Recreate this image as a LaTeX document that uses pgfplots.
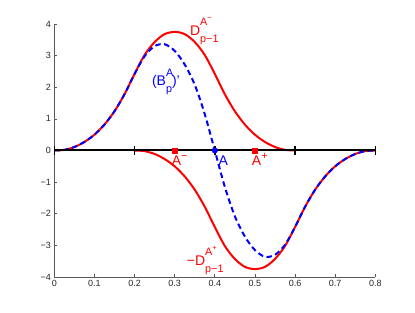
\documentclass[border=0pt]{standalone}
\usepackage{pgfplots}
\pgfplotsset{compat=1.18}
\usepackage{fontspec}
\setmainfont{Liberation Sans}
\newcommand{\mi}{−}
\newcommand{\bigf}[1]{{\fontsize{14}{14}\selectfont #1}}
\newcommand{\smallf}[1]{{\fontsize{10.8}{11}\selectfont #1}}
\newcommand{\tinyf}[1]{{\fontsize{7.5}{8}\selectfont #1}}
\begin{document}
\begin{tikzpicture}
\begin{axis}[
  scale only axis, width=321pt, height=253pt,
  xmin=0, xmax=0.8, ymin=-4, ymax=4,
  axis x line*=bottom, axis y line*=left,
  axis line style={black!65, line width=0.7pt},
  tick align=inside, major tick length=3pt,
  tick style={black!65, line width=0.6pt},
  xtick={0,0.1,0.2,0.3,0.4,0.5,0.6,0.7,0.8},
  xticklabels={0,0.1,0.2,0.3,0.4,0.5,0.6,0.7,0.8},
  ytick={-4,-3,-2,-1,0,1,2,3,4},
  yticklabels={−4,−3,−2,−1,0,1,2,3,4},
  ticklabel style={font=\fontsize{9}{9}\selectfont, text=black!85},
  clip=false,
]
% D^{A-}_{p-1}
\addplot[red, line width=2pt, smooth] coordinates {
(0,0)(0.025,0.02)(0.05,0.11)(0.075,0.27)(0.1,0.50)(0.125,0.82)(0.15,1.24)(0.175,1.78)
(0.2,2.42)(0.225,3.02)(0.25,3.43)(0.275,3.68)(0.3,3.75)(0.325,3.68)(0.35,3.43)(0.375,3.02)
(0.4,2.42)(0.425,1.78)(0.45,1.24)(0.475,0.82)(0.5,0.50)(0.525,0.27)(0.55,0.11)(0.575,0.02)(0.6,0)};
% -D^{A+}_{p-1}
\addplot[red, line width=2pt, smooth] coordinates {
(0.2,0)(0.225,-0.02)(0.25,-0.11)(0.275,-0.27)(0.3,-0.50)(0.325,-0.82)(0.35,-1.24)(0.375,-1.78)
(0.4,-2.42)(0.425,-3.02)(0.45,-3.43)(0.475,-3.68)(0.5,-3.75)(0.525,-3.68)(0.55,-3.43)(0.575,-3.02)
(0.6,-2.42)(0.625,-1.78)(0.65,-1.24)(0.675,-0.82)(0.7,-0.50)(0.725,-0.27)(0.75,-0.11)(0.775,-0.02)(0.8,0)};
% (B_p^A)'
\addplot[blue, line width=2pt, smooth, dash pattern=on 5.5pt off 3.5pt] coordinates {
(0,0)(0.025,0.02)(0.05,0.11)(0.075,0.27)(0.1,0.50)(0.125,0.82)(0.15,1.24)(0.175,1.78)
(0.2,2.42)(0.225,2.98)(0.25,3.30)(0.275,3.36)(0.3,3.15)(0.325,2.72)(0.35,2.08)(0.375,1.15)
(0.4,0)(0.425,-1.15)(0.45,-2.08)(0.475,-2.72)(0.5,-3.15)(0.525,-3.36)(0.55,-3.30)(0.575,-2.98)
(0.6,-2.42)(0.625,-1.78)(0.65,-1.24)(0.675,-0.82)(0.7,-0.50)(0.725,-0.27)(0.75,-0.11)(0.775,-0.02)(0.8,0)};
% knot line
\addplot[black, line width=2pt] coordinates {(0,0)(0.8,0)};
\addplot[black, only marks, mark=|, mark size=4.5pt, mark options={line width=1.5pt}] coordinates {(0,0)(0.2,0)(0.4,0)(0.6,0)(0.8,0)};
\addplot[red, only marks, mark=square*, mark size=2.5pt] coordinates {(0.3,0)(0.5,0)};
\addplot[blue, only marks, mark=*, mark size=2.8pt] coordinates {(0.4,0)};
% labels
\node[anchor=base west, text=red, inner sep=0pt] at (axis cs:0.338,3.65)
  {\bigf{D}\rlap{\raisebox{10pt}{\smallf{A\raisebox{4.5pt}{\tinyf{\mi}}}}}\raisebox{-7pt}{\smallf{p\mi1}}};
\node[anchor=base west, text=blue, inner sep=0pt] at (axis cs:0.243,2.04)
  {\bigf{(B}\rlap{\raisebox{9.5pt}{\smallf{A}}}\raisebox{-6.5pt}{\smallf{p}}\bigf{)'}};
\node[anchor=base west, text=red, inner sep=0pt] at (axis cs:0.2925,-0.48)
  {\bigf{A}\raisebox{6pt}{\smallf{\mi}}};
\node[anchor=base west, text=blue, inner sep=0pt] at (axis cs:0.409,-0.48)
  {\bigf{A}};
\node[anchor=base west, text=red, inner sep=0pt] at (axis cs:0.492,-0.48)
  {\bigf{A}\raisebox{6pt}{\smallf{+}}};
\node[anchor=base west, text=red, inner sep=0pt] at (axis cs:0.33,-3.63)
  {\bigf{\mi D}\rlap{\raisebox{10pt}{\smallf{A\raisebox{4.5pt}{\tinyf{+}}}}}\raisebox{-7pt}{\smallf{p\mi1}}};
\end{axis}
\path ([shift={(-54.3pt,-36pt)}]current axis.south west) rectangle ([shift={(39.7pt,24pt)}]current axis.north east);
\end{tikzpicture}
\end{document}
